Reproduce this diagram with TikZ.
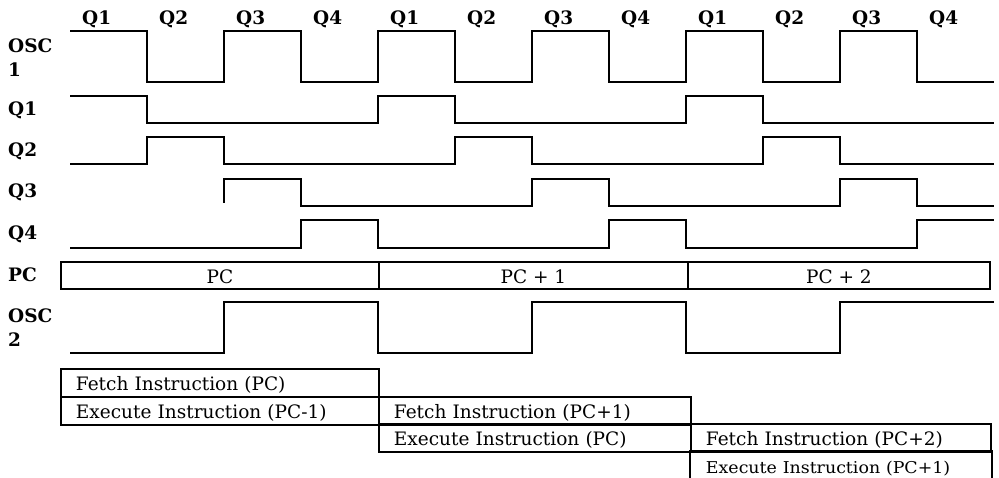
\documentclass[tikz,border=0pt]{standalone}
\usepackage{fontspec}
\setmainfont{DejaVu Serif}
\usepackage{graphicx}
\usepackage{tikz}
\usetikzlibrary{positioning}
\definecolor{wave}{RGB}{0,0,0}
\tikzset{
  sig/.style={line width=1.9pt, draw=wave, line join=miter},
  signame/.style={anchor=base west, align=left, inner sep=0pt,
    font=\fontsize{18.5}{24}\selectfont\bfseries},
  qlbl/.style={anchor=base west, inner sep=0pt,
    font=\fontsize{18.5}{20}\selectfont\bfseries},
  pccell/.style={rectangle, draw=wave, line width=1.9pt, anchor=north west,
    minimum height=27pt, inner sep=0pt, text height=16pt, text depth=0pt,
    font=\fontsize{18.5}{20}\selectfont},
  stage/.style={rectangle, draw=wave, line width=1.9pt, anchor=north west,
    minimum height=28pt, inner xsep=15pt, inner ysep=0pt, align=left,
    text height=16pt, text depth=0pt,
    text width=#1, font=\fontsize{18.5}{20}\selectfont}
}

\begin{document}
\begin{tikzpicture}[x=1pt, y=-1pt]
  \useasboundingbox (0,0) rectangle (999,478);

  %% quarter labels
  \foreach \i/\q in {0/1,1/2,2/3,3/4,4/1,5/2,6/3,7/4,8/1,9/2,10/3,11/4}
    \node[qlbl] (q\i) at ({82+77*\i},25) {Q\q};

  %% signal names
  \node[signame] (nosc1) at (8,77) {OSC\\1};
  \node[signame] (nq1)   at (8,116) {Q1};
  \node[signame] (nq2)   at (8,157) {Q2};
  \node[signame] (nq3)   at (8,198) {Q3};
  \node[signame] (nq4)   at (8,240) {Q4};
  \node[signame] (npc)   at (8,282) {PC};
  \node[signame] (nosc2) at (8,347) {OSC\\2};

  %% waveforms
  \draw[sig] (70,31) -- (147,31) -- (147,82) -- (224,82) -- (224,31)
    -- (301,31) -- (301,82) -- (378,82) -- (378,31) -- (455,31) -- (455,82)
    -- (532,82) -- (532,31) -- (609,31) -- (609,82) -- (686,82) -- (686,31)
    -- (763,31) -- (763,82) -- (840,82) -- (840,31) -- (917,31) -- (917,82)
    -- (994,82);
  \draw[sig] (70,96) -- (147,96) -- (147,123) -- (378,123) -- (378,96)
    -- (455,96) -- (455,123) -- (686,123) -- (686,96) -- (763,96)
    -- (763,123) -- (994,123);
  \draw[sig] (70,164) -- (147,164) -- (147,137) -- (224,137) -- (224,164)
    -- (455,164) -- (455,137) -- (532,137) -- (532,164) -- (763,164)
    -- (763,137) -- (840,137) -- (840,164) -- (994,164);
  \draw[sig] (224,203) -- (224,179) -- (301,179) -- (301,206) -- (532,206)
    -- (532,179) -- (609,179) -- (609,206) -- (840,206) -- (840,179)
    -- (917,179) -- (917,206) -- (994,206);
  \draw[sig] (70,248) -- (301,248) -- (301,220) -- (378,220) -- (378,248)
    -- (609,248) -- (609,220) -- (686,220) -- (686,248) -- (917,248)
    -- (917,220) -- (994,220);
  \draw[sig] (70,353) -- (224,353) -- (224,302) -- (378,302) -- (378,353)
    -- (532,353) -- (532,302) -- (686,302) -- (686,353) -- (840,353)
    -- (840,302) -- (994,302);

  %% program counter
  \node[pccell, minimum width=318pt] (pc0) at (60,261) {PC};
  \node[pccell, minimum width=309pt] (pc1) at (378,261) {PC + 1};
  \node[pccell, minimum width=302pt] (pc2) at (687,261) {PC + 2};

  %% fetch / execute
  \node[stage=288pt] (fetch0) at (60,368) {Fetch Instruction (PC)};
  \node[stage=288pt] (exec0)  at (60,396) {Execute Instruction (PC-1)};
  \node[stage=282pt] (fetch1) at (378,396) {Fetch Instruction (PC+1)};
  \node[stage=282pt] (exec1)  at (378,423) {Execute Instruction (PC)};
  \node[stage=270pt] (fetch2) at (690,423) {Fetch Instruction (PC+2)};
  \node[stage=270pt, draw=none, minimum height=27pt] (exec2) at (690,451)
    {\scalebox{0.94}[0.88]{Execute Instruction (PC+1)}};
  \draw[sig] (exec2.south west) -- (exec2.north west) -- (exec2.north east)
    -- (exec2.south east);

\end{tikzpicture}
\end{document}
